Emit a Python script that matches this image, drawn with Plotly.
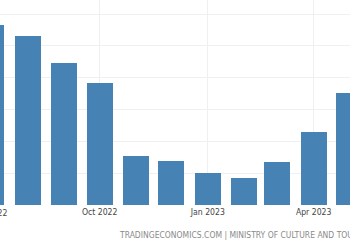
import plotly.graph_objects as go
import pandas as pd

months = ["2022-07-01", "2022-08-01", "2022-09-01", "2022-10-01", "2022-11-01", "2022-12-01",
          "2023-01-01", "2023-02-01", "2023-03-01", "2023-04-01", "2023-05-01"]
arrivals = [5660, 5310, 4470, 3820, 1550, 1390, 1000, 860, 1340, 2300, 3510]
tick_dates = ["2022-10-01", "2023-01-01", "2023-04-01"]
tick_labels = ["Oct 2022", "Jan 2023", "Apr 2023"]
edge_tick_date = "2022-07-01"
edge_tick_label = "Jul 2022"
source_text = "TRADINGECONOMICS.COM | MINISTRY OF CULTURE AND TOURISM"

FONT = "DejaVu Sans Condensed, DejaVu Sans, sans-serif"
DAY_MS = 86400000

fig = go.Figure(go.Bar(
    x=pd.to_datetime(months),
    y=arrivals,
    width=22.1 * DAY_MS,
    marker=dict(color="#4682B4", line=dict(width=0)),
))

x0 = pd.Timestamp("2022-07-01") + pd.Timedelta(days=7.23)
span_days = 297.7
x1 = x0 + pd.Timedelta(days=span_days)

# paper position of the partially visible edge tick label
edge_frac = (pd.Timestamp(edge_tick_date) - x0) / pd.Timedelta(days=span_days)

fig.update_layout(
    width=350, height=250,
    margin=dict(l=0, r=0, t=0, b=45),
    paper_bgcolor="white", plot_bgcolor="white",
    showlegend=False,
    bargap=0,
    xaxis=dict(
        type="date",
        range=[x0, x1],
        tickvals=pd.to_datetime(tick_dates),
        ticktext=tick_labels,
        showgrid=True, gridcolor="#f0f0f0", gridwidth=1,
        ticks="", showline=False, zeroline=False,
        tickfont=dict(family=FONT, size=8.6, color="#444444"),
    ),
    yaxis=dict(
        range=[0, 6440],
        dtick=1000, tick0=0,
        showgrid=True, gridcolor="#f0f0f0", gridwidth=1,
        showticklabels=False, ticks="", zeroline=False, showline=False,
    ),
    annotations=[
        dict(x=edge_frac, xref="paper", y=-0.039, yref="paper",
             text=edge_tick_label, showarrow=False,
             xanchor="center", yanchor="middle",
             font=dict(family=FONT, size=8.6, color="#444444")),
        dict(x=117 / 350, xref="paper", y=-0.146, yref="paper",
             text=source_text, showarrow=False,
             xanchor="left", yanchor="middle",
             font=dict(family=FONT, size=8.5, color="#8a8a8a")),
    ],
)

fig.write_html("out.html")
